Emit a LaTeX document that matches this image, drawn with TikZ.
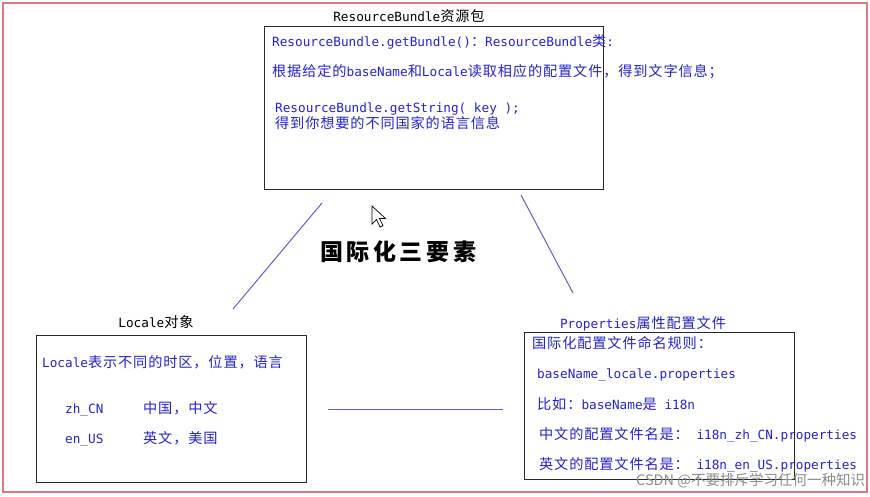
\documentclass[tikz,border=0pt]{standalone}
\usepackage{fontspec}
\setmainfont{DejaVu Sans Mono}
\newfontfamily\cjkfont[LetterSpace=6]{Noto Sans CJK SC}
\newfontfamily\titlefont{Noto Sans CJK SC}
\newfontfamily\wmfont{Noto Sans CJK SC}
\newcommand\latsz{\fontsize{12.7}{15}\selectfont}
\newcommand\zhs[1]{{\cjkfont\fontsize{14.2}{15}\selectfont #1}}
\newcommand\tsp{\hspace{3.6pt}}
\definecolor{tblue}{RGB}{35,35,205}
\definecolor{lblue}{RGB}{95,95,200}
\definecolor{framecol}{RGB}{215,125,125}
\definecolor{boxcol}{RGB}{40,40,40}
\begin{document}
\begin{tikzpicture}[x=1pt,y=-1pt,
  txt/.style={anchor=base west, inner sep=0pt, text=tblue, font=\latsz},
  ttl/.style={anchor=base, inner sep=0pt, font=\latsz},
  boxnode/.style={draw=boxcol, line width=0.9pt, inner sep=0pt},
  conn/.style={draw=lblue, line width=1pt}]
\useasboundingbox (0,0) rectangle (870,496);
\fill[white] (0,0) rectangle (870,496);
\draw[framecol, line width=2pt] (2.5,2.5) rectangle (866.5,491.5);

% boxes
\node[boxnode, minimum width=339pt, minimum height=163pt] (rb) at (433.5,107.5) {};
\node[boxnode, minimum width=270pt, minimum height=147pt] (lo) at (171,408.5) {};
\node[boxnode, minimum width=270pt, minimum height=147pt] (pr) at (659,405.5) {};

% titles
\node[ttl] (rbt) at (409,21) {ResourceBundle\zhs{资源包}};
\node[ttl] (lot) at (156,327) {Locale\zhs{对象}};
\node[ttl, text=tblue] (prt) at (643,328) {Properties\zhs{属性配置文件}};

% resource bundle text
\node[txt] (r1) at (272,46) {ResourceBundle.getBundle()\zhs{：}ResourceBundle\zhs{类}:};
\node[txt] (r2) at (272,76) {\zhs{根据给定的}baseName\zhs{和}Locale\zhs{读取相应的配置文件，得到文字信息；}};
\node[txt] (r3) at (275,112) {ResourceBundle.getString( key );};
\node[txt] (r4) at (275,128) {\zhs{得到你想要的不同国家的语言信息}};

% locale text
\node[txt] (l1) at (42,367) {Locale\zhs{表示不同的时区，位置，语言}};
\node[txt] (l2) at (65,413) {zh\_CN};
\node[txt] (l3) at (143,413) {\zhs{中国，中文}};
\node[txt] (l4) at (65,443) {en\_US};
\node[txt] (l5) at (143,443) {\zhs{英文，美国}};

% properties text
\node[txt] (p1) at (532,348) {\zhs{国际化配置文件命名规则：}};
\node[txt] (p2) at (537,378) {baseName\_locale.properties};
\node[txt] (p3) at (537,409) {\zhs{比如：}baseName\zhs{是} i18n};
\node[txt] (p4) at (539,439) {\zhs{中文的配置文件名是：} i18n\_zh\_CN.properties};
\node[txt] (p5) at (539,469) {\zhs{英文的配置文件名是：} i18n\_en\_US.properties};

% central title
\node[inner sep=0pt, anchor=west, font=\titlefont\bfseries\fontsize{23}{24}\selectfont] (ct) at (320,252) {国\tsp 际\tsp 化\tsp 三\tsp 要\tsp 素};

% connectors
\coordinate (a1) at (322,203);
\coordinate (a2) at (233,309);
\coordinate (b1) at (521,195);
\coordinate (b2) at (573,293);
\coordinate (c1) at (328,409);
\coordinate (c2) at (503,409);
\draw[conn] (a1) -- (a2);
\draw[conn] (b1) -- (b2);
\draw[conn] (c1) -- (c2);

% mouse cursor
\draw[black, fill=white, line width=0.7pt, line join=miter]
  (372,206) -- (372,224) -- (376.5,219.5) -- (380,227) -- (383,225.8) -- (379.5,218.5) -- (385.5,218.5) -- cycle;

% watermark
\node[anchor=base west, inner sep=0pt, text=black!45, font=\wmfont\fontsize{14.5}{15}\selectfont] (wm) at (636,485) {CSDN @不要排斥学习任何一种知识};
\end{tikzpicture}
\end{document}
